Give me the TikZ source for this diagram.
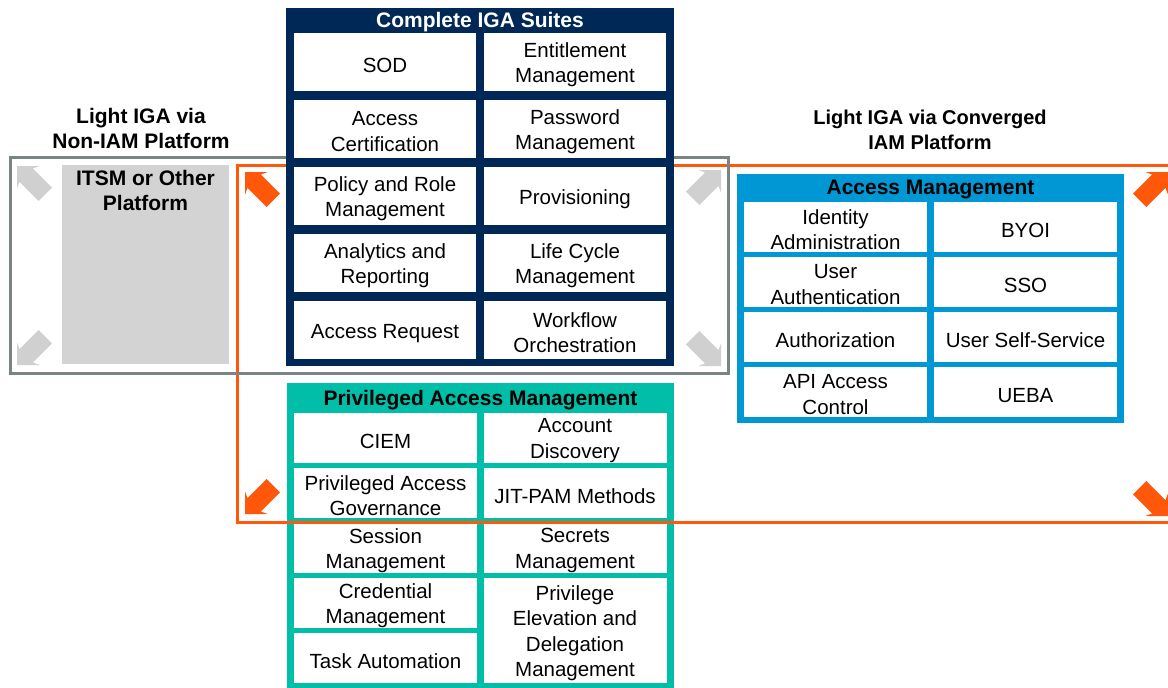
\documentclass[tikz,border=0pt]{standalone}
\usepackage{fontspec}
\setmainfont{Liberation Sans}
\definecolor{navy}{RGB}{0,40,86}
\definecolor{teal2}{RGB}{0,190,168}
\definecolor{amblue}{RGB}{0,152,212}
\definecolor{orng}{RGB}{255,88,10}
\definecolor{gstroke}{RGB}{122,132,132}
\definecolor{gfill}{RGB}{211,211,211}
\definecolor{garrow}{RGB}{208,208,208}
\tikzset{
  cell/.style={fill=white, draw=none, inner sep=0pt,
    minimum width=182pt, minimum height=58pt},
  scell/.style={cell, minimum width=183pt, minimum height=50pt},
  ctext/.style={inner sep=0pt, align=center, yshift=-2.5pt,
    font=\fontsize{20.5}{25.5}\selectfont},
  ctextone/.style={ctext, yshift=-1pt},
  box/.style={draw=none, inner sep=0pt},
  ttl/.style={inner sep=0pt, align=center, font=\fontsize{21}{25}\selectfont\bfseries,
    execute at begin node={\rule{0pt}{19pt}}},
  frame/.style={draw, line width=3pt},
}
% multi-line cell / single-line cell
\newcommand\cellM[4][cell]{\node[#1, label={[ctext]center:#4}] (#2) at (#3) {};}
\newcommand\cellS[4][cell]{\node[#1, label={[ctextone]center:#4}] (#2) at (#3) {};}
\newcommand\blockarrow[3]{%
  \fill[#1, shift={(#2)}, rotate=#3]
    (0,0) -- (-16,16) -- (-13,9.5) -- (-40,9.5) -- (-40,-9.5) -- (-13,-9.5) -- (-16,-16) -- cycle;}
\begin{document}
\begin{tikzpicture}[x=1pt, y=-1pt]
\useasboundingbox (0,0) rectangle (1168,688);

% labels
\node[ttl] (lbl1) at (141,128) {Light IGA via\\Non-IAM Platform};
\node[ttl, font=\fontsize{20}{25}\selectfont\bfseries] (lbl2) at (930,130) {Light IGA via Converged\\IAM Platform};

% ITSM platform
\node[box, fill=gfill, minimum width=167pt, minimum height=199pt] (itsm) at (145.5,264.5) {};
\node[ttl, anchor=north] (itsmt) at (145.5,170) {ITSM or Other\\Platform};

% PAM box
\node[box, fill=teal2, minimum width=387pt, minimum height=305pt] (pam) at (480.5,535.5) {};
\node[ttl] (pamt) at (480.5,398) {Privileged Access Management};
\cellS[scell]{p11}{385.5,438}{CIEM}
\cellM[scell]{p12}{575,438}{Account\\Discovery}
\cellM[scell]{p21}{385.5,493}{Privileged Access\\Governance}
\cellS[scell]{p22}{575,493}{JIT-PAM Methods}
\cellM[scell]{p31}{385.5,548}{Session\\Management}
\cellM[scell]{p32}{575,548}{Secrets\\Management}
\cellM[scell]{p41}{385.5,603}{Credential\\Management}
\cellM[scell, minimum height=105pt]{p42}{575,630.5}{Privilege\\Elevation and\\Delegation\\Management}
\cellS[scell]{p51}{385.5,658}{Task Automation}

% frames
\draw[frame, orng] (237,165) rectangle (1185,522);
\draw[frame, gstroke] (10,157) rectangle (728,373);

% IGA box
\node[box, fill=navy, minimum width=388pt, minimum height=358pt] (iga) at (480,187) {};
\node[ttl, text=white] (igat) at (480,20) {Complete IGA Suites};
\cellS{i11}{385,62}{SOD}
\cellM{i12}{575,62}{Entitlement\\Management}
\cellM{i21}{385,129}{Access\\Certification}
\cellM{i22}{575,129}{Password\\Management}
\cellM{i31}{385,196}{Policy and Role\\Management}
\cellS{i32}{575,196}{Provisioning}
\cellM{i41}{385,263}{Analytics and\\Reporting}
\cellM{i42}{575,263}{Life Cycle\\Management}
\cellS{i51}{385,330}{Access Request}
\cellM{i52}{575,330}{Workflow\\Orchestration}

% Access Management box
\node[box, fill=amblue, minimum width=387pt, minimum height=249pt] (am) at (930.5,298.5) {};
\node[ttl] (amt) at (930.5,187) {Access Management};
\cellM[scell]{a11}{835.5,227}{Identity\\Administration}
\cellS[scell]{a12}{1025.5,227}{BYOI}
\cellM[scell]{a21}{835.5,282}{User\\Authentication}
\cellS[scell]{a22}{1025.5,282}{SSO}
\cellS[scell]{a31}{835.5,337}{Authorization}
\cellS[scell]{a32}{1025.5,337}{User Self-Service}
\cellM[scell]{a41}{835.5,392}{API Access\\Control}
\cellS[scell]{a42}{1025.5,392}{UEBA}

% gray arrows
\blockarrow{garrow}{17,166}{135}
\blockarrow{garrow}{17,365}{225}
\blockarrow{garrow}{721,170}{45}
\blockarrow{garrow}{721,366}{315}
% orange arrows
\blockarrow{orng}{245,172}{135}
\blockarrow{orng}{245,514}{225}
\blockarrow{orng}{1168,172}{45}
\blockarrow{orng}{1168,516}{315}
\end{tikzpicture}
\end{document}
